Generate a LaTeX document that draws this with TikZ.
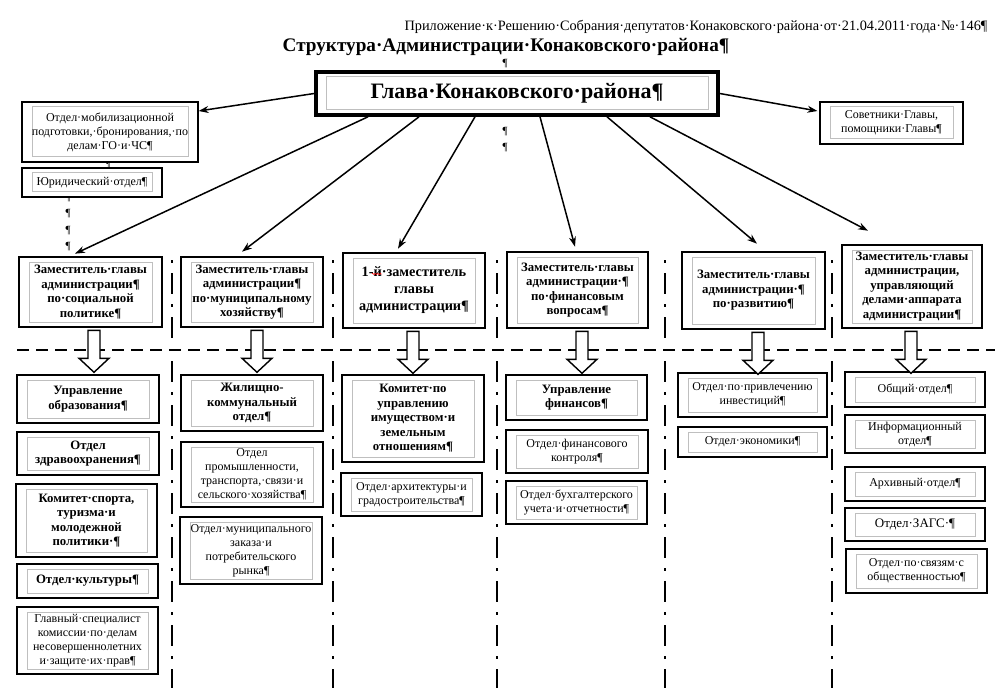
\documentclass[tikz,border=0pt]{standalone}
\usepackage{fontspec}
\setmainfont{Liberation Serif}
\usetikzlibrary{arrows.meta,decorations.pathmorphing}

\begin{document}
\begin{tikzpicture}[x=1pt,y=-1pt,>={Stealth[length=10pt,width=7pt]}]
	\tikzstyle{inset}=[path picture={\draw[black!25,line width=1pt] ([xshift=10pt,yshift=-5pt]path picture bounding box.north west) rectangle ([xshift=-10pt,yshift=5pt]path picture bounding box.south east);}]
	\tikzstyle{box}=[draw, fill=white, inset, align=center, inner sep=0pt]
	\tikzstyle{dept}=[box, line width=1.2pt, font=\fontsize{12}{14}\selectfont]
	\tikzstyle{mgmt}=[box, line width=2.6pt, font=\bfseries\fontsize{12.8}{14.5}\selectfont]
	\tikzstyle{deputy}=[mgmt, minimum height=70]
	\tikzstyle{pil}=[inner sep=0pt, font=\fontsize{11}{12}\selectfont]
	\tikzstyle{blk}=[draw, fill=white, line width=1.4pt, line join=miter]

	\useasboundingbox (0,0) rectangle (1005,698);

	% titles
	\node[font=\fontsize{14.3}{16}\selectfont] (appx) at (696,27) {Приложение·к·Решению·Собрания·депутатов·Конаковского·района·от·21.04.2011·года·№·146¶};
	\node[font=\bfseries\fontsize{19.2}{22}\selectfont] (title) at (506,47) {Структура·Администрации·Конаковского·района¶};

	% stray paragraph marks
	\node[pil] (p1) at (505,64) {¶};
	\node[pil] (p2) at (505,113) {¶};
	\node[pil] (p3) at (505,132) {¶};
	\node[pil] (p4) at (505,148) {¶};
	\node[pil] (p5) at (108,165) {¶};
	\node[pil, font=\fontsize{7}{8}\selectfont, text=black!60] (tab) at (85,163) {→};
	\node[pil] (p6) at (68,198) {¶};
	\node[pil] (p7) at (68,214) {¶};
	\node[pil] (p8) at (68,231) {¶};
	\node[pil] (p9) at (68,247) {¶};

	% column dividers
	\foreach \x in {172,333,497,665,832}
		\draw[line width=2.8pt, dash pattern=on 3pt off 10pt on 21pt off 10pt] (\x,260) -- (\x,688);
	\draw[white, line width=4pt] (17,350) -- (995,350);
	\draw[line width=2pt, dash pattern=on 12pt off 7pt] (17,350) -- (995,350);

	% head
	\node[box, line width=3.6pt, minimum width=402, minimum height=43, font=\bfseries\fontsize{22}{26}\selectfont] (gl) at (517,93.5) {Глава·Конаковского·района¶};
	\node[dept, minimum width=176, minimum height=60] (mob) at (110,132) {Отдел·мобилизационной\\подготовки,·бронирования,·по\\делам·ГО·и·ЧС¶};
	\node[dept, minimum width=140, minimum height=29] (yur) at (92,182.5) {Юридический·отдел¶};
	\node[dept, minimum width=143, minimum height=42] (sov) at (891.5,123) {Советники·Главы,\\помощники·Главы¶};

	% deputies
	\node[deputy, minimum width=143] (d1) at (90.5,292) {Заместитель·главы\\администрации¶\\по·социальной\\политике¶};
	\node[deputy, minimum width=142] (d2) at (252,292) {Заместитель·главы\\администрации¶\\по·муниципальному\\хозяйству¶};
	\node[deputy, minimum width=142, minimum height=75, font=\bfseries\fontsize{14.3}{17}\selectfont] (d3) at (414,290.5) {1-й·заместитель\\главы\\администрации¶};
	\node[deputy, minimum width=141, minimum height=76] (d4) at (577.5,290) {Заместитель·главы\\администрации·¶\\по·финансовым\\вопросам¶};
	\node[deputy, minimum width=143, minimum height=77] (d5) at (753.5,290.5) {Заместитель·главы\\администрации·¶\\по·развитию¶};
	\node[deputy, minimum width=140, minimum height=83] (d6) at (912,286.5) {Заместитель·главы\\администрации,\\управляющий\\делами·аппарата\\администрации¶};
	\draw[red, line width=0.5pt, decorate, decoration={snake, amplitude=0.7pt, segment length=2.5pt}] (372,274) -- (382,274);

	% column 1
	\node[mgmt, minimum width=142, minimum height=48] (a1) at (88,399) {Управление\\образования¶};
	\node[mgmt, minimum width=142, minimum height=43] (a2) at (88,453.5) {Отдел\\здравоохранения¶};
	\node[mgmt, minimum width=141, minimum height=73] (a3) at (86.5,520.5) {Комитет·спорта,\\туризма·и\\молодежной\\политики·¶};
	\node[mgmt, minimum width=141, minimum height=34] (a4) at (87.5,581) {Отдел·культуры¶};
	\node[dept, minimum width=141, minimum height=67] (a5) at (87.5,640.5) {Главный·специалист\\комиссии·по·делам\\несовершеннолетних\\и·защите·их·прав¶};

	% column 2
	\node[mgmt, minimum width=142, minimum height=56] (b1) at (252,403) {Жилищно-\\коммунальный\\отдел¶};
	\node[dept, minimum width=142, minimum height=65] (b2) at (252,474.5) {Отдел\\промышленности,\\транспорта,·связи·и\\сельского·хозяйства¶};
	\node[dept, minimum width=142, minimum height=67] (b3) at (251,550.5) {Отдел·муниципального\\заказа·и\\потребительского\\рынка¶};

	% column 3
	\node[mgmt, minimum width=142, minimum height=87] (c1) at (413,418.5) {Комитет·по\\управлению\\имуществом·и\\земельным\\отношениям¶};
	\node[dept, minimum width=141, minimum height=43] (c2) at (411.5,494.5) {Отдел·архитектуры·и\\градостроительства¶};

	% column 4
	\node[mgmt, minimum width=141, minimum height=45] (e1) at (576.5,397.5) {Управление\\финансов¶};
	\node[dept, minimum width=142, minimum height=43] (e2) at (577,451.5) {Отдел·финансового\\контроля¶};
	\node[dept, minimum width=141, minimum height=43] (e3) at (576.5,502.5) {Отдел·бухгалтерского\\учета·и·отчетности¶};

	% column 5
	\node[dept, minimum width=149, minimum height=44] (f1) at (752.5,395) {Отдел·по·привлечению\\инвестиций¶};
	\node[dept, minimum width=149, minimum height=30] (f2) at (752.5,442) {Отдел·экономики¶};

	% column 6
	\node[dept, minimum width=140, minimum height=35] (g1) at (915,389.5) {Общий·отдел¶};
	\node[dept, minimum width=140, minimum height=38] (g2) at (915,434) {Информационный\\отдел¶};
	\node[dept, minimum width=140, minimum height=34] (g3) at (915,484) {Архивный·отдел¶};
	\node[dept, minimum width=140, minimum height=33, font=\fontsize{13}{14}\selectfont] (g4) at (915,524.5) {Отдел·ЗАГС·¶};
	\node[dept, minimum width=141, minimum height=44] (g5) at (916.5,571) {Отдел·по·связям·с\\общественностью¶};

	% block arrows to the subordinate units
	\foreach \d/\dx in {d1/3.5,d2/5,d3/-1,d4/4.5,d5/4.5,d6/-1}
		\draw[blk] ([xshift=\dx]\d.south) ++(-6,2) -- ++(0,28) -- ++(-9,0) -- ++(15,14) -- ++(15,-14) -- ++(-9,0) -- ++(0,-28) -- cycle;

	% head to the rest
	\draw[->, line width=1.5pt] (gl.west) -- ([yshift=21pt]mob.east);
	\draw[->, line width=1.5pt] (gl.east) -- ([xshift=-2pt,yshift=12pt]sov.west);
	\foreach \sx/\d/\tx/\ty in {-149/d1/-15.5/2,-98/d2/-10/4,-42/d3/-16/3,23/d4/-2.5/4,90/d5/3.5/7,133/d6/-44/13}
		\draw[->, line width=1.5pt] ([xshift=\sx]gl.south) -- ([xshift=\tx,yshift=\ty]\d.north);
\end{tikzpicture}
\end{document}
